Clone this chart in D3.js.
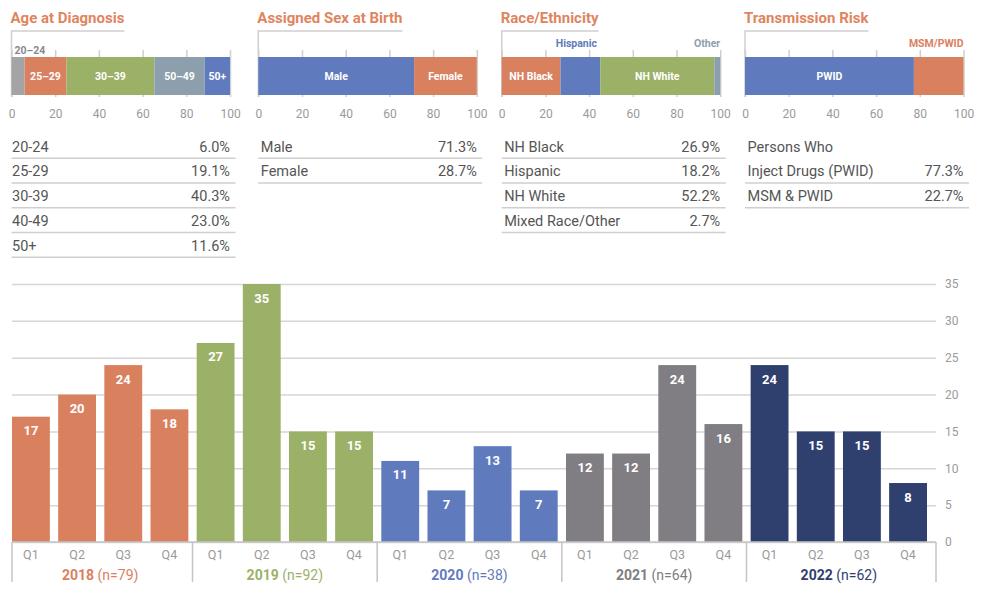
<!DOCTYPE html>
<html>
<head>
<meta charset="utf-8">
<script src="https://cdn.jsdelivr.net/npm/d3@7"></script>
<style>
  body { margin: 0; background: #fff; }
  text { font-family: Roboto, 'Noto Sans', sans-serif; }
</style>
</head>
<body>
<div id="chart"></div>
<script>
// top panels
const ageCats = ['20-24', '25-29', '30-39', '40-49', '50+'];
const ageBarLabels = ['20–24', '25–29', '30–39', '50–49', '50+'];
const ageVals = [6.0, 19.1, 40.3, 23.0, 11.6];

const sexCats = ['Male', 'Female'];
const sexVals = [71.3, 28.7];

const raceCats = ['NH Black', 'Hispanic', 'NH White', 'Mixed Race/Other'];
const raceBarLabels = ['NH Black', 'Hispanic', 'NH White', 'Other'];
const raceVals = [26.9, 18.2, 52.2, 2.7];

const riskCats = ['Persons Who\nInject Drugs (PWID)', 'MSM & PWID'];
const riskBarLabels = ['PWID', 'MSM/PWID'];
const riskVals = [77.3, 22.7];

const pctTicks = [0, 20, 40, 60, 80, 100];

// quarterly counts
const years = ['2018', '2019', '2020', '2021', '2022'];
const yearN = [79, 92, 38, 64, 62];
const quarters = ['Q1', 'Q2', 'Q3', 'Q4'];
const counts2018 = [17, 20, 24, 18];
const counts2019 = [27, 35, 15, 15];
const counts2020 = [11, 7, 13, 7];
const counts2021 = [12, 12, 24, 16];
const counts2022 = [24, 15, 15, 8];
const countTicks = [0, 5, 10, 15, 20, 25, 30, 35];

const C = {
  orange: '#d9815f',
  green: '#9bb167',
  blue: '#5f7bbd',
  gray: '#a4a4a7',
  slate: '#8d9fac',
  dgray: '#807d83',
  navy: '#2f406e',
  title: '#de8560',
  text: '#555555',
  tick: '#9a9a9a',
  rule: '#cfcfcf'
};
const yearColors = [C.orange, C.green, C.blue, C.dgray, C.navy];

const W = 982, H = 589;
const svg = d3.select('#chart').append('svg')
  .attr('width', W).attr('height', H);

const panels = [
  { title: 'Age at Diagnosis', cats: ageCats, bar: ageBarLabels, vals: ageVals,
    colors: [C.gray, C.orange, C.green, C.slate, C.blue], x0: 11.5 },
  { title: 'Assigned Sex at Birth', cats: sexCats, bar: sexCats, vals: sexVals,
    colors: [C.blue, C.orange], x0: 258.3 },
  { title: 'Race/Ethnicity', cats: raceCats, bar: raceBarLabels, vals: raceVals,
    colors: [C.orange, C.blue, C.green, C.slate], x0: 501.7 },
  { title: 'Transmission Risk', cats: riskCats, bar: riskBarLabels, vals: riskVals,
    colors: [C.blue, C.orange], x0: 745 }
];

const pw = 218.5;
const barTop = 57, barH = 38;

panels.forEach((p, pi) => {
  const g = svg.append('g');
  const px = d3.scaleLinear().domain([0, 100]).range([p.x0, p.x0 + pw]);

  const title = g.append('text')
    .attr('x', p.x0 - 1).attr('y', 23)
    .attr('font-size', 15).attr('font-weight', 700)
    .attr('fill', C.title)
    .text(p.title);
  const tw = title.node().getComputedTextLength();

  // bracket under the title
  g.append('path')
    .attr('d', `M${p.x0},${barTop + barH + 2}V31H${p.x0 - 1 + tw}`)
    .attr('fill', 'none').attr('stroke', C.rule).attr('stroke-width', 1.5);

  // tick lines + labels
  const ax = g.append('g')
    .attr('transform', 'translate(0,50)')
    .call(d3.axisBottom(px).tickValues(pctTicks).tickSize(47).tickPadding(12));
  ax.select('.domain').remove();
  ax.selectAll('line').attr('stroke', C.rule).attr('stroke-width', 1.5);
  ax.selectAll('text').attr('fill', C.tick).attr('font-size', 12)
    .attr('font-family', 'Roboto, sans-serif');

  // stacked segments
  let acc = 0;
  const segs = p.vals.map((v, i) => {
    const s = { start: acc, end: acc + v, i };
    acc += v;
    return s;
  });

  g.selectAll('rect.seg').data(segs).enter().append('rect')
    .attr('class', 'seg')
    .attr('x', d => px(d.start))
    .attr('y', barTop)
    .attr('width', d => px(d.end) - px(d.start))
    .attr('height', barH)
    .attr('fill', d => p.colors[d.i]);

  segs.forEach(d => {
    const segW = px(d.end) - px(d.start);
    const t = g.append('text')
      .attr('font-size', 10.5).attr('font-weight', 700)
      .attr('dominant-baseline', 'central')
      .text(p.bar[d.i]);
    const lw = t.node().getComputedTextLength();
    if (lw + 4 <= segW) {
      t.attr('x', (px(d.start) + px(d.end)) / 2).attr('y', barTop + barH / 2)
        .attr('text-anchor', 'middle').attr('fill', '#fff');
    } else {
      t.attr('fill', p.colors[d.i]);
      if (d.i === 0) {
        t.attr('x', px(d.start) + 3).attr('y', 50).attr('text-anchor', 'start')
          .attr('fill', '#8a8a8a');
      } else if (d.i === segs.length - 1) {
        t.attr('x', px(d.end)).attr('y', 43).attr('text-anchor', 'end');
      } else {
        t.attr('x', (px(d.start) + px(d.end)) / 2 - 4).attr('y', 43)
          .attr('text-anchor', 'middle');
      }
    }
  });

  // table
  const rowY0 = 147, rowStep = 24.75;
  const lx = p.x0 + (pi === 0 ? 0.5 : 2.5);
  let slot = 0;
  p.cats.forEach((c, i) => {
    const lines = c.split('\n');
    lines.forEach((ln, j) => {
      g.append('text')
        .attr('x', lx).attr('y', rowY0 + (slot + j) * rowStep)
        .attr('dominant-baseline', 'central')
        .attr('font-size', 14.5).attr('fill', C.text)
        .text(ln);
    });
    slot += lines.length - 1;
    const yRow = rowY0 + slot * rowStep;
    g.append('text')
      .attr('x', p.x0 + 218.5).attr('y', yRow)
      .attr('text-anchor', 'end').attr('dominant-baseline', 'central')
      .attr('font-size', 14.5).attr('fill', C.text)
      .text(p.vals[i].toFixed(1) + '%');
    g.append('line')
      .attr('x1', p.x0).attr('x2', p.x0 + 224)
      .attr('y1', yRow + 11.3).attr('y2', yRow + 11.3)
      .attr('stroke', C.rule).attr('stroke-width', 1.5);
    slot += 1;
  });
});

// ---- quarterly bar chart ----
const allCounts = [counts2018, counts2019, counts2020, counts2021, counts2022];
const bars = [];
years.forEach((yr, yi) => {
  quarters.forEach((q, qi) => {
    bars.push({ key: yr + ' ' + q, year: yr, yi, q, v: allCounts[yi][qi] });
  });
});

const left = 12, right = 936, base = 542;
const x = d3.scaleBand().domain(bars.map(d => d.key))
  .range([left, 927]).paddingInner(0.18).paddingOuter(0);
const y = d3.scaleLinear().domain([0, 35]).range([base, 284]);

const gy = svg.append('g')
  .attr('transform', `translate(${right},0)`)
  .call(d3.axisRight(y).tickValues(countTicks).tickSize(-(right - left)).tickPadding(9));
gy.select('.domain').remove();
gy.selectAll('line').attr('stroke', '#d6d6d6').attr('stroke-width', 1.5);
gy.selectAll('text').attr('fill', C.tick).attr('font-size', 12)
  .attr('font-family', 'Roboto, sans-serif');

svg.selectAll('rect.bar').data(bars).enter().append('rect')
  .attr('class', 'bar')
  .attr('x', d => x(d.key))
  .attr('y', d => y(d.v))
  .attr('width', x.bandwidth())
  .attr('height', d => y(0) - y(d.v))
  .attr('fill', d => yearColors[d.yi]);

svg.selectAll('text.val').data(bars).enter().append('text')
  .attr('class', 'val')
  .attr('x', d => x(d.key) + x.bandwidth() / 2)
  .attr('y', d => y(d.v) + 14)
  .attr('text-anchor', 'middle').attr('dominant-baseline', 'central')
  .attr('font-size', 13).attr('font-weight', 700).attr('fill', '#fff')
  .text(d => d.v);

// baseline and quarter labels
const gx = svg.append('g')
  .attr('transform', `translate(0,${base})`)
  .call(d3.axisBottom(x).tickSize(0).tickPadding(8).tickFormat(d => d.split(' ')[1]));
gx.select('.domain').remove();
gx.selectAll('text').attr('fill', C.tick).attr('font-size', 12.5)
  .attr('font-family', 'Roboto, sans-serif');

svg.append('line')
  .attr('x1', left).attr('x2', right).attr('y1', base).attr('y2', base)
  .attr('stroke', '#c4c4c4').attr('stroke-width', 1.5);

// year separators
const step = x.step(), gap = step - x.bandwidth();
const seps = [left];
years.forEach((yr, yi) => {
  if (yi > 0) seps.push(x(yr + ' Q1') - gap / 2);
});
seps.push(right);
svg.selectAll('line.sep').data(seps).enter().append('line')
  .attr('class', 'sep')
  .attr('x1', d => d).attr('x2', d => d)
  .attr('y1', base).attr('y2', 582)
  .attr('stroke', '#c4c4c4').attr('stroke-width', 1.5);

// year labels
years.forEach((yr, yi) => {
  const cx = (x(yr + ' Q1') + x(yr + ' Q4') + x.bandwidth()) / 2;
  const t = svg.append('text')
    .attr('x', cx).attr('y', 580)
    .attr('text-anchor', 'middle')
    .attr('font-size', 14).attr('fill', yearColors[yi]);
  t.append('tspan').attr('font-weight', 700).text(yr);
  t.append('tspan').text(' (n=' + yearN[yi] + ')');
});
</script>
</body>
</html>
